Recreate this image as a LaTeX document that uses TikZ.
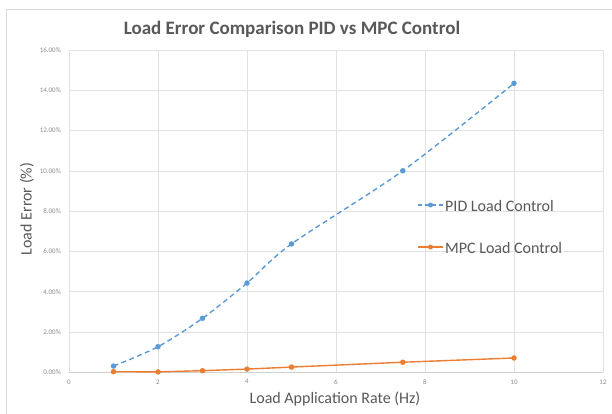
\documentclass[tikz,border=0pt]{standalone}
\usepackage{fontspec}
\setmainfont{Carlito}
\definecolor{pidblue}{HTML}{5B9BD5}
\definecolor{mpcorange}{HTML}{ED7D31}
\definecolor{gridgray}{HTML}{E2E2E2}
\definecolor{axisgray}{HTML}{D0D0D0}
\definecolor{framegray}{HTML}{D9D9D9}
\definecolor{txtgray}{HTML}{595959}
\definecolor{ticgray}{HTML}{8C8C8C}
\tikzset{
  gridline/.style={draw=gridgray, line width=0.6pt},
  axisline/.style={draw=axisgray, line width=1pt},
  charttitle/.style={text=txtgray, font=\fontsize{19}{22}\selectfont\bfseries, inner sep=0pt},
  axistitle/.style={text=txtgray, font=\fontsize{16}{18}\selectfont, inner sep=0pt},
  ticklabel/.style={text=ticgray, font=\fontsize{7}{8}\selectfont, inner sep=0pt},
  legendtext/.style={text=txtgray, font=\fontsize{16}{18}\selectfont, inner sep=0pt, anchor=west},
  pidline/.style={draw=pidblue, line width=1.4pt, dash pattern=on 5pt off 3.5pt},
  mpcline/.style={draw=mpcorange, line width=1.4pt},
  piddot/.style={circle, fill=pidblue, inner sep=0pt, minimum size=5.5pt},
  mpcdot/.style={circle, fill=mpcorange, inner sep=0pt, minimum size=5.5pt},
}
\begin{document}
\begin{tikzpicture}[x=1pt,y=-1pt]
\useasboundingbox (0,0) rectangle (612,414);
\fill[white] (0,0) rectangle (612,414);
\draw[framegray, line width=0.8pt] (6,414) -- (6,9) -- (612,9);
\node[charttitle] (title) at (292,29) {Load Error Comparison PID vs MPC Control};
\node[axistitle] (xtitle) at (335,399) {Load Application Rate (Hz)};
\node[axistitle, rotate=90] (ytitle) at (27,209) {Load Error (\%)};
\begin{scope}[shift={(69,372.3)}, x=44.5pt, y=20.15pt]
  \foreach \i in {0,2,...,12} \draw[gridline] (\i,0) -- (\i,16);
  \foreach \j in {2,4,...,16} \draw[gridline] (0,\j) -- (12,\j);
  \draw[axisline] (0,0) -- (12,0);
  \foreach \j/\t in {0/0.00,2/2.00,4/4.00,6/6.00,8/8.00,10/10.00,12/12.00,14/14.00,16/16.00}
    \node[ticklabel, anchor=east] (yl\j) at ([xshift=-8pt]0,\j) {\t\%};
  \foreach \i in {0,2,...,12}
    \node[ticklabel, anchor=north] (xl\i) at ([yshift=-7pt]\i,0) {\i};
  % PID data
  \coordinate (p1) at (1,0.31);
  \coordinate (p2) at (2,1.27);
  \coordinate (p3) at (3,2.68);
  \coordinate (p4) at (4,4.43);
  \coordinate (p5) at (5,6.37);
  \coordinate (p6) at (7.5,10.0);
  \coordinate (p7) at (10,14.34);
  \draw[pidline] plot[smooth, tension=0.5] coordinates {(p1) (p2) (p3) (p4) (p5) (p6) (p7)};
  \foreach \k in {1,...,7} \node[piddot] (pd\k) at (p\k) {};
  % MPC data
  \coordinate (m1) at (1,0.03);
  \coordinate (m2) at (2,0.02);
  \coordinate (m3) at (3,0.08);
  \coordinate (m4) at (4,0.16);
  \coordinate (m5) at (5,0.26);
  \coordinate (m6) at (7.5,0.5);
  \coordinate (m7) at (10,0.71);
  \draw[mpcline] (m1) -- (m2) -- (m3) -- (m4) -- (m5) -- (m6) -- (m7);
  \foreach \k in {1,...,7} \node[mpcdot] (md\k) at (m\k) {};
\end{scope}
% legend
\coordinate (la) at (418,205);
\coordinate (lb) at (443,205);
\draw[pidline, dash pattern=on 4pt off 3pt] (la) -- (lb);
\node[piddot, minimum size=5pt] (lpd) at (430.5,205) {};
\node[legendtext] (lpid) at (445,206) {PID Load Control};
\coordinate (lc) at (418,247);
\coordinate (ld) at (443,247);
\draw[mpcline] (lc) -- (ld);
\node[mpcdot, minimum size=5pt] (lmd) at (430.5,247) {};
\node[legendtext] (lmpc) at (445,248) {MPC Load Control};
\end{tikzpicture}
\end{document}
